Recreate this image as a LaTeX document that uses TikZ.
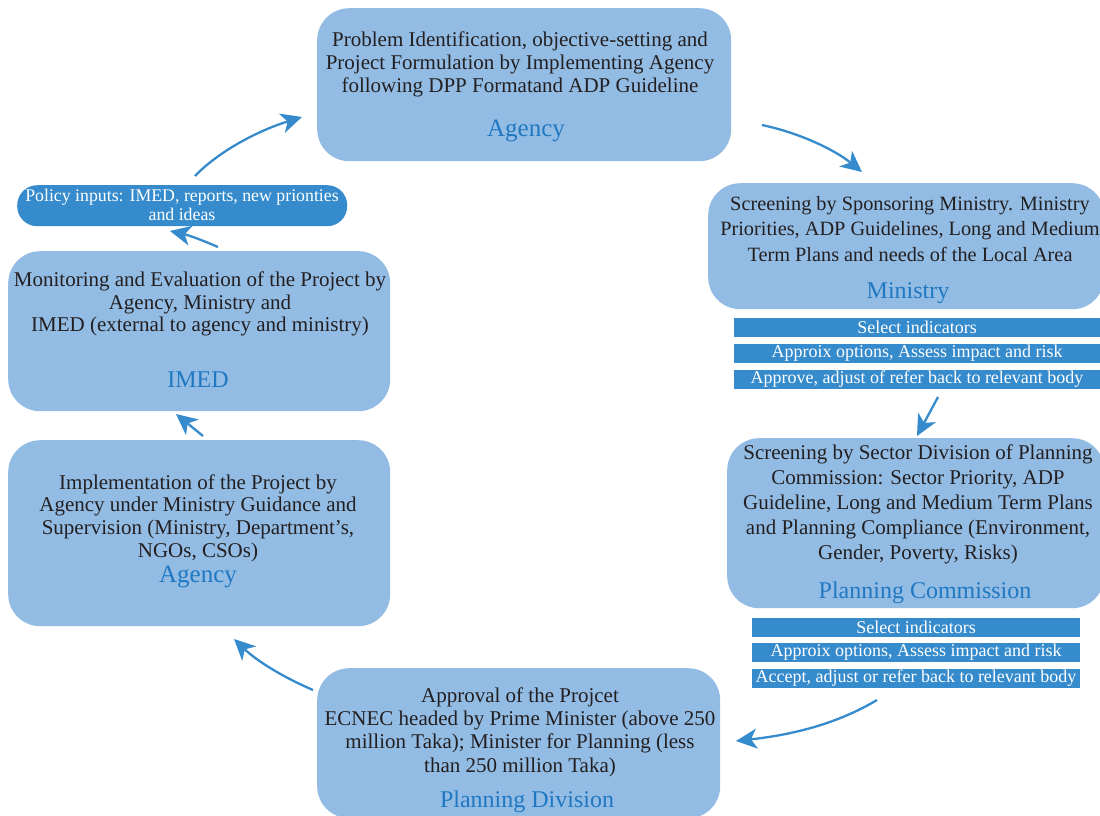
\documentclass[tikz,border=0pt]{standalone}
\usepackage{fontspec}
\setmainfont{Liberation Serif}
\usetikzlibrary{arrows.meta}
\definecolor{boxfill}{HTML}{93BCE4}
\definecolor{barfill}{HTML}{358BCC}
\definecolor{lbl}{HTML}{1F78C1}
\definecolor{txt}{HTML}{231F20}
\begin{document}
\begin{tikzpicture}[x=1pt,y=-1pt,
  stage/.style={fill=boxfill, rounded corners=32pt, inner sep=0pt, anchor=north west},
  body/.style={font=\fontsize{21}{23}\selectfont, text=txt, align=center, inner sep=0pt},
  owner/.style={font=\fontsize{24}{26}\selectfont, text=lbl, inner sep=0pt},
  bar/.style={fill=barfill, text=white, font=\fontsize{18}{19}\selectfont, inner sep=0pt, minimum height=19pt},
  conn/.style={draw=barfill, line width=2.3pt, -{Stealth[length=21pt,width=20pt,inset=6pt]}}]
\useasboundingbox (0,0) rectangle (1100,815);
\clip (0,0) rectangle (1100,815);
\fill[white] (0,0) rectangle (1100,815);

% stage boxes
\node[stage, minimum width=414pt, minimum height=153pt] (top) at (317,8) {};
\node[stage, minimum width=396pt, minimum height=126pt] (min) at (708,183) {};
\node[stage, minimum width=377pt, minimum height=170pt] (pc) at (727,438) {};
\node[stage, minimum width=403pt, minimum height=150pt] (appr) at (317,668) {};
\node[stage, minimum width=382pt, minimum height=186pt] (impl) at (8,440) {};
\node[stage, minimum width=382pt, minimum height=160pt] (imed) at (8,251) {};
\node[fill=barfill, rounded corners=20pt, minimum width=330pt, minimum height=41pt, inner sep=0pt, anchor=north west] (pol) at (17,185) {};

% texts
\node[body] (topT) at (520,64) {Problem Identification, objective-setting and\\Project Formulation by Implementing Agency\\following DPP Formatand ADP Guideline};
\node[owner, font=\fontsize{25}{27}\selectfont] (topO) at (526,131) {Agency};

\node[body, font=\fontsize{20.3}{25.5}\selectfont] (minT) at (910,229) {Screening by Sponsoring Ministry. Ministry\\Priorities, ADP Guidelines, Long and Medium\\Term Plans and needs of the Local Area};
\node[owner] (minO) at (908,293) {Ministry};

\node[body, font=\fontsize{21}{25}\selectfont] (pcT) at (918,504) {Screening by Sector Division of Planning\\Commission: Sector Priority, ADP\\Guideline, Long and Medium Term Plans\\and Planning Compliance (Environment,\\Gender, Poverty, Risks)};
\node[owner] (pcO) at (925,593) {Planning Commission};

\node[body, font=\fontsize{21}{23.3}\selectfont] (apprT) at (520,732) {Approval of the Projcet\\ECNEC headed by Prime Minister (above 250\\million Taka); Minister for Planning (less\\than 250 million Taka)};
\node[owner] (apprO) at (527,802) {Planning Division};

\node[body, font=\fontsize{21}{22.7}\selectfont] (implT) at (198,518) {Implementation of the Project by\\Agency under Ministry Guidance and\\Supervision (Ministry, Department's,\\NGOs, CSOs)};
\node[owner, font=\fontsize{25}{27}\selectfont] (implO) at (198,577) {Agency};

\node[body, font=\fontsize{21}{22.5}\selectfont] (imedT) at (200,304) {Monitoring and Evaluation of the Project by\\Agency, Ministry and\\IMED (external to agency and ministry)};
\node[owner] (imedO) at (198,380) {IMED};

\node[font=\fontsize{17.8}{19}\selectfont, text=white, align=center, inner sep=0pt] (polT) at (182,205) {Policy inputs: IMED, reports, new prionties\\and ideas};

% bars
\node[bar, minimum width=366pt] (b1) at (917,327.5) {Select indicators};
\node[bar, minimum width=366pt] (b2) at (917,353.5) {Approix options, Assess impact and risk};
\node[bar, minimum width=366pt] (b3) at (917,379.5) {Approve, adjust of refer back to relevant body};
\node[bar, minimum width=328pt] (c1) at (916,627.5) {Select indicators};
\node[bar, minimum width=328pt] (c2) at (916,652) {Approix options, Assess impact and risk};
\node[bar, minimum width=328pt] (c3) at (916,678.5) {Accept, adjust or refer back to relevant body};

% connector end points
\coordinate (a1s) at (762,125); \coordinate (a1e) at (862,172);
\coordinate (a2s) at (938,397); \coordinate (a2e) at (917,436);
\coordinate (a3s) at (877,700); \coordinate (a3e) at (736,741);
\coordinate (a4s) at (313,690); \coordinate (a4e) at (234,639);
\coordinate (a5s) at (203,436); \coordinate (a5e) at (176,414);
\coordinate (a6s) at (218,247); \coordinate (a6e) at (170,231);
\coordinate (a7s) at (195,176); \coordinate (a7e) at (302,117);

\draw[conn] (a1s) .. controls (800,133) and (835,150) .. (a1e);
\draw[conn] (a2s) -- (a2e);
\draw[conn] (a3s) .. controls (835,725) and (790,735) .. (a3e);
\draw[conn] (a4s) .. controls (285,678) and (258,662) .. (a4e);
\draw[conn] (a5s) -- (a5e);
\draw[conn] (a6s) .. controls (202,240) and (188,235) .. (a6e);
\draw[conn] (a7s) .. controls (220,150) and (260,130) .. (a7e);
\end{tikzpicture}
\end{document}
